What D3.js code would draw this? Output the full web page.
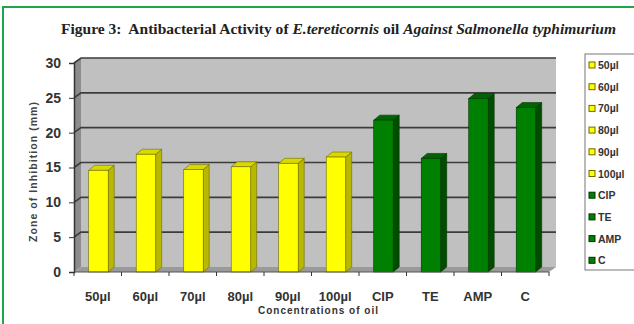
<!DOCTYPE html>
<html>
<head>
<meta charset="utf-8">
<script src="https://cdn.jsdelivr.net/npm/d3@7"></script>
<style>
  body { margin: 0; background: #fff; }
  svg { display: block; font-family: "Liberation Sans", Arial, sans-serif; }
</style>
</head>
<body>
<svg id="canvas"></svg>
<script>
const categories = ["50µl", "60µl", "70µl", "80µl", "90µl", "100µl", "CIP", "TE", "AMP", "C"];
const zones = [14.6, 16.9, 14.7, 15.1, 15.6, 16.5, 21.8, 16.3, 24.9, 23.6];
const groups = ["oil", "oil", "oil", "oil", "oil", "oil", "drug", "drug", "drug", "drug"];
const yTicks = [0, 5, 10, 15, 20, 25, 30];

const width = 634, height = 324;
const dx = 7, dy = -5; // 3d depth offset

const colors = {
  oil: { face: "#ffff00", side: "#b8b800", top: "#d9d900", stroke: "#6b6b00" },
  drug: { face: "#008000", side: "#004d00", top: "#006400", stroke: "#003300" }
};

const svg = d3.select("#canvas")
  .attr("width", width)
  .attr("height", height);

// green frame
svg.append("path")
  .attr("d", "M3,330 L3,7 L640,7")
  .attr("fill", "none")
  .attr("stroke", "#1fa64a")
  .attr("stroke-width", 2);

// title
const title = svg.append("text")
  .attr("x", 61)
  .attr("y", 34)
  .attr("textLength", 555)
  .attr("lengthAdjust", "spacingAndGlyphs")
  .style("font-family", "'Liberation Serif', 'Times New Roman', serif")
  .style("font-size", "14.5px")
  .style("font-weight", "bold")
  .style("white-space", "pre")
  .attr("fill", "#222");
title.append("tspan").text("Figure 3:  Antibacterial Activity of ");
title.append("tspan").style("font-style", "italic").text("E.tereticornis");
title.append("tspan").text(" oil ");
title.append("tspan").style("font-style", "italic").text("Against Salmonella typhimurium");

const x = d3.scaleBand()
  .domain(categories)
  .range([74, 549])
  .padding(0);

const y = d3.scaleLinear()
  .domain([0, 30])
  .range([272, 63]);

const x0 = x.range()[0], x1 = x.range()[1];

// side wall
svg.append("polygon")
  .attr("points", [[x0, y(30)], [x0 + dx, y(30) + dy], [x0 + dx, y(0) + dy], [x0, y(0)]].join(" "))
  .attr("fill", "#8c8c8c");

// back wall
svg.append("rect")
  .attr("x", x0 + dx)
  .attr("y", y(30) + dy)
  .attr("width", x1 - x0)
  .attr("height", y(0) - y(30))
  .attr("fill", "#c0c0c0");

// floor
svg.append("polygon")
  .attr("points", [[x0, y(0)], [x0 + dx, y(0) + dy], [x1 + dx, y(0) + dy], [x1, y(0)]].join(" "))
  .attr("fill", "#9a9a9a");

// gridlines
const grid = svg.append("g").attr("stroke", "#3c3c3c").attr("stroke-width", 1.6).attr("fill", "none");
yTicks.filter(t => t > 0).forEach(t => {
  grid.append("polyline")
    .attr("points", [[x0, y(t)], [x0 + dx, y(t) + dy], [x1 + dx, y(t) + dy]].join(" "));
});

// bars
const barOff = x.bandwidth() * 0.31;
const barW = x.bandwidth() * 0.41;
const bars = svg.append("g")
  .selectAll("g")
  .data(categories.map((c, i) => ({ c, v: zones[i], g: groups[i] })))
  .join("g");

bars.append("polygon") // side
  .attr("points", d => {
    const bx = x(d.c) + barOff + barW;
    return [[bx, y(d.v)], [bx + dx - 1, y(d.v) + dy], [bx + dx - 1, y(0) + dy], [bx, y(0)]].join(" ");
  })
  .attr("fill", d => colors[d.g].side)
  .attr("stroke", d => colors[d.g].stroke)
  .attr("stroke-width", 0.6);

bars.append("polygon") // top
  .attr("points", d => {
    const bx = x(d.c) + barOff;
    return [[bx, y(d.v)], [bx + dx - 1, y(d.v) + dy], [bx + barW + dx - 1, y(d.v) + dy], [bx + barW, y(d.v)]].join(" ");
  })
  .attr("fill", d => colors[d.g].top)
  .attr("stroke", d => colors[d.g].stroke)
  .attr("stroke-width", 0.6);

bars.append("rect") // front
  .attr("x", d => x(d.c) + barOff)
  .attr("y", d => y(d.v))
  .attr("width", barW)
  .attr("height", d => y(0) - y(d.v))
  .attr("fill", d => colors[d.g].face)
  .attr("stroke", d => colors[d.g].stroke)
  .attr("stroke-width", 0.6);

// y axis
const yAxis = svg.append("g")
  .attr("transform", `translate(${x0},0)`)
  .call(d3.axisLeft(y).tickValues(yTicks).tickSize(5).tickPadding(8));
yAxis.select(".domain").attr("stroke", "#333").attr("stroke-width", 1.5);
yAxis.selectAll(".tick line").attr("stroke", "#333");
yAxis.selectAll(".tick text")
  .style("font-size", "14px")
  .style("font-weight", "bold")
  .attr("fill", "#333");

// x axis front edge and boundary ticks
svg.append("line")
  .attr("x1", x0).attr("x2", x1)
  .attr("y1", y(0)).attr("y2", y(0))
  .attr("stroke", "#555").attr("stroke-width", 1.2);
svg.append("g")
  .selectAll("line")
  .data(categories.map(c => x(c)).concat([x1]))
  .join("line")
  .attr("x1", d => d).attr("x2", d => d)
  .attr("y1", y(0)).attr("y2", y(0) + 4)
  .attr("stroke", "#333");

const xAxis = svg.append("g")
  .attr("transform", `translate(0,${y(0)})`)
  .call(d3.axisBottom(x).tickSize(0).tickPadding(20));
xAxis.select(".domain").remove();
xAxis.selectAll(".tick text")
  .style("font-size", "13px")
  .style("font-weight", "bold")
  .attr("fill", "#333");

// axis titles
svg.append("text")
  .attr("transform", "translate(37,172) rotate(-90)")
  .attr("text-anchor", "middle")
  .attr("textLength", 140)
  .style("font-size", "10.5px")
  .style("font-weight", "bold")
  .attr("fill", "#444")
  .text("Zone of Inhibition (mm)");

svg.append("text")
  .attr("x", 318)
  .attr("y", 314)
  .attr("text-anchor", "middle")
  .attr("textLength", 120)
  .style("font-size", "10px")
  .style("font-weight", "bold")
  .attr("fill", "#333")
  .text("Concentrations of oil");

// legend
const legend = svg.append("g").attr("transform", "translate(585,54)");
legend.append("rect")
  .attr("x", 0).attr("y", 0)
  .attr("width", 60).attr("height", 216)
  .attr("fill", "#fff")
  .attr("stroke", "#777")
  .attr("stroke-width", 1);

const items = legend.selectAll("g.item")
  .data(categories.map((c, i) => ({ c, g: groups[i] })))
  .join("g")
  .attr("class", "item")
  .attr("transform", (d, i) => `translate(4,${11 + i * 21.7})`);
items.append("rect")
  .attr("x", 0).attr("y", -3)
  .attr("width", 6).attr("height", 6)
  .attr("fill", d => colors[d.g].face)
  .attr("stroke", d => colors[d.g].stroke)
  .attr("stroke-width", 1);
items.append("text")
  .attr("x", 9)
  .attr("y", 4)
  .style("font-size", "10.5px")
  .style("font-weight", "bold")
  .attr("fill", "#333")
  .text(d => d.c);
</script>
</body>
</html>
